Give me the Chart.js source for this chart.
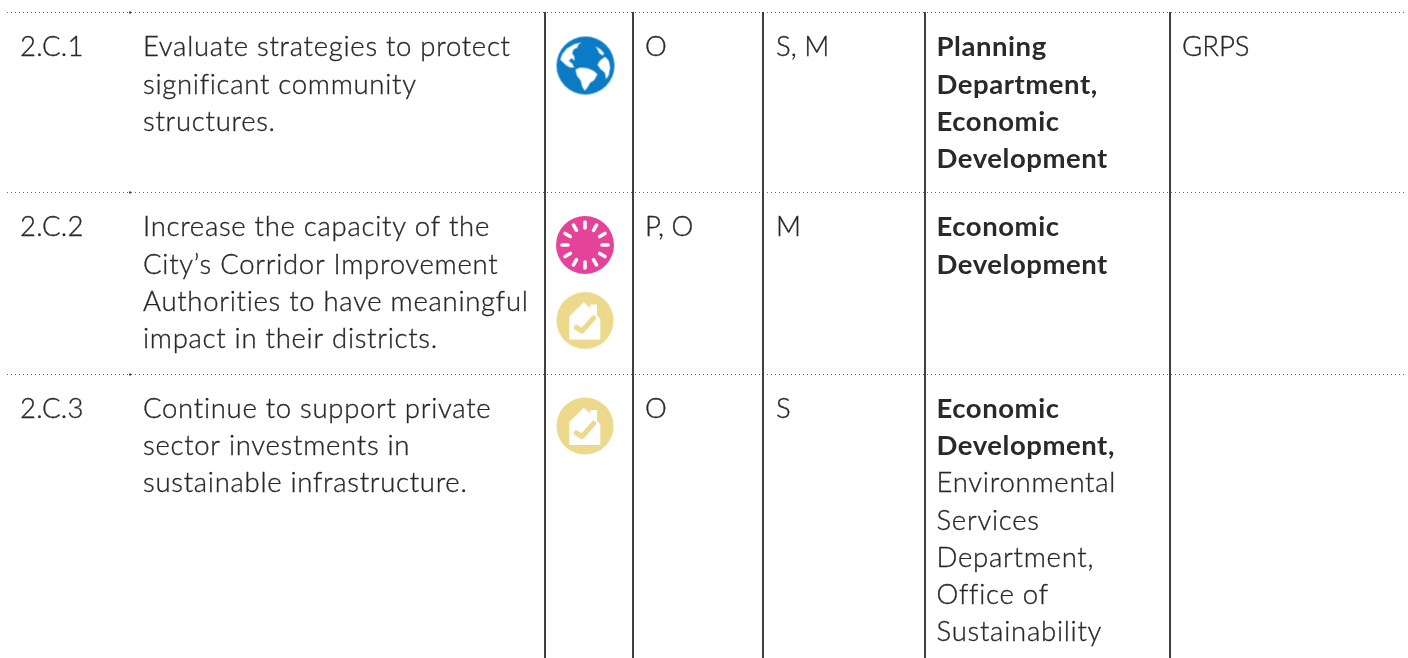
<!DOCTYPE html>
<html><head><meta charset="utf-8">
<style>html,body{margin:0;padding:0;background:#fff;overflow:hidden}canvas{display:block}</style>
<script src="https://cdn.jsdelivr.net/npm/chart.js@4"></script>
</head><body><canvas id="c" width="1408" height="658"></canvas>
<script>
// ---- table content ----
const codes = ["2.C.1", "2.C.2", "2.C.3"];
const strategies = [
  ["Evaluate strategies to protect", "significant community", "structures."],
  ["Increase the capacity of the", "City’s Corridor Improvement", "Authorities to have meaningful", "impact in their districts."],
  ["Continue to support private", "sector investments in", "sustainable infrastructure."]
];
const timeframes = ["O", "P, O", "O"];
const scales_ = ["S, M", "M", "S"];
const leadsBold = [
  ["Planning", "Department,", "Economic", "Development"],
  ["Economic", "Development"],
  ["Economic", "Development,"]
];
const leadsPlain = [
  [],
  [],
  ["Environmental", "Services", "Department,", "Office of", "Sustainability"]
];
const partners = ["GRPS", "", ""];
const rowIcons = [["globe"], ["burst", "house"], ["house"]];

// ---- axis positions of the ruled table ----
const columnRules = [545, 633, 763, 925, 1170];
const rowRules = [12.5, 192.5, 374.5];
const rowNotchX = 130;
const columnText = [20, 143, 645, 776, 936.5, 1182];
const rowBaselines = [56.4, 236.4, 417.6];
const iconCentres = [[[585.5, 65.5]], [[585, 245], [585, 320.5]], [[585, 426]]];
const lineStep = 37.3;

function iconCanvas(kind) {
  const s = 60, cv = document.createElement("canvas");
  cv.width = s; cv.height = s;
  const g = cv.getContext("2d"), c = s / 2;
  g.translate(c, c);
  const disc = (col, r) => { g.fillStyle = col; g.beginPath(); g.arc(0, 0, r, 0, Math.PI * 2); g.fill(); };
  const poly = pts => { g.beginPath(); pts.forEach((p, i) => i ? g.lineTo(p[0], p[1]) : g.moveTo(p[0], p[1])); g.closePath(); g.fill(); };
  if (kind === "globe") {
    disc("#0a7bc4", 29);
    g.fillStyle = "#fff";
    poly([[-3.7,-23.3],[-11.3,-21.3],[-18.7,-17],[-23.3,-11.3],[-25.3,-6],[-21.3,-2],[-18,0.7],[-15.3,2],[-11.3,2],[-13.3,-2],[-16.7,-4.7],[-14,-7.3],[-10.7,-4.7],[-11.3,-9.3],[-13.3,-12],[-12,-16],[-8,-18],[-7.3,-20.7]]);
    poly([[-10,4],[-5.3,2],[2,2.7],[8,5.3],[12,8.7],[8.7,14.7],[4.7,17.3],[2,22],[-0.7,25.3],[-3.3,21.3],[-4.7,15.3],[-8.7,10]]);
    poly([[14.7,-5.3],[19.7,-8.7],[23.3,-4.7],[24.7,2],[23.3,9.7],[20.7,13.7],[19.3,7.3],[14.7,3.3],[12,-0.7]]);
    poly([[10,-19.3],[15.3,-16],[18.7,-12],[17.3,-10],[14,-12],[12,-16]]);
  } else if (kind === "burst") {
    disc("#e5439a", 29);
    g.strokeStyle = "#fff"; g.lineWidth = 3.6; g.lineCap = "round";
    for (let i = 0; i < 12; i++) {
      const a = i * Math.PI / 6;
      g.beginPath();
      g.moveTo(Math.sin(a) * 17, -Math.cos(a) * 17);
      g.lineTo(Math.sin(a) * 23, -Math.cos(a) * 23);
      g.stroke();
    }
  } else {
    disc("#ecd98c", 28.5);
    g.fillStyle = "#fff";
    poly([[-15.7,-4],[-1.3,-18.3],[5.3,-12.5],[5.3,-16],[12,-16],[12,-5],[15.3,-2],[15.3,19],[-15.7,19]]);
    g.strokeStyle = "#ecd98c"; g.lineWidth = 5; g.lineCap = "round"; g.lineJoin = "round";
    g.beginPath(); g.moveTo(-8.7, 7); g.lineTo(-3, 10.5); g.lineTo(8.7, -2.7); g.stroke();
  }
  return cv;
}

const ruleDatasets = [];
columnRules.forEach(x => ruleDatasets.push({
  type: "line", data: [{x, y: 12}, {x, y: 658}],
  borderColor: "#3f3f42", borderWidth: 2, pointRadius: 0, fill: false
}));
rowRules.forEach(y => {
  ruleDatasets.push({
    type: "line", data: [{x: 7, y}, {x: 1405, y}],
    borderColor: "#6a6a6a", borderWidth: 1, borderDash: [1, 3], pointRadius: 0, fill: false
  });
  ruleDatasets.push({
    type: "line", data: [{x: rowNotchX - 1, y}, {x: rowNotchX + 1, y}],
    borderColor: "#3f3f42", borderWidth: 2, pointRadius: 0, fill: false
  });
});

const iconDatasets = [];
rowIcons.forEach((list, r) => list.forEach((kind, i) => {
  const [x, y] = iconCentres[r][i];
  iconDatasets.push({ type: "scatter", data: [{x, y}], pointStyle: iconCanvas(kind), pointRadius: 29 });
}));

const REG = '300 27.5px "Lato"', BOLD = '700 27.5px "Lato"', INK = "#29282a";

const tableText = {
  id: "tableText",
  afterDatasetsDraw(chart) {
    const ctx = chart.ctx, X = chart.scales.x, Y = chart.scales.y;
    const put = (str, col, base, font, spacing) => {
      if (!str) return;
      const bold = font === BOLD;
      ctx.font = font; ctx.fillStyle = INK; ctx.strokeStyle = INK; ctx.textBaseline = "alphabetic"; ctx.textAlign = "left";
      ctx.letterSpacing = spacing + "px";
      const px = X.getPixelForValue(col), py = Y.getPixelForValue(base);
      ctx.fillText(str, px, py);
      if (!bold) { ctx.lineWidth = 0.35; ctx.strokeText(str, px, py); }
    };
    ctx.save();
    codes.forEach((_, r) => {
      const b = rowBaselines[r];
      put(codes[r], columnText[0], b, REG, 0.2);
      strategies[r].forEach((t, i) => put(t, columnText[1], b + i * lineStep, REG, 0.72));
      put(timeframes[r], columnText[2], b, REG, 0);
      put(scales_[r], columnText[3], b, REG, 0);
      leadsBold[r].forEach((t, i) => put(t, columnText[4], b + i * lineStep, BOLD, 0.55));
      const n = leadsBold[r].length;
      leadsPlain[r].forEach((t, i) => put(t, columnText[4], b + (n + i) * lineStep, REG, 0.75));
      put(partners[r], columnText[5], b, REG, 0);
    });
    ctx.restore();
  }
};

new Chart(document.getElementById("c"), {
  type: "scatter",
  data: { datasets: [...ruleDatasets, ...iconDatasets] },
  plugins: [tableText],
  options: {
    responsive: false, animation: false,
    layout: { padding: 0, autoPadding: false },
    plugins: { legend: { display: false }, tooltip: { enabled: false } },
    scales: {
      x: { type: "linear", min: 0, max: 1408, display: false },
      y: { type: "linear", min: 0, max: 658, reverse: true, display: false }
    }
  }
});
</script></body></html>
